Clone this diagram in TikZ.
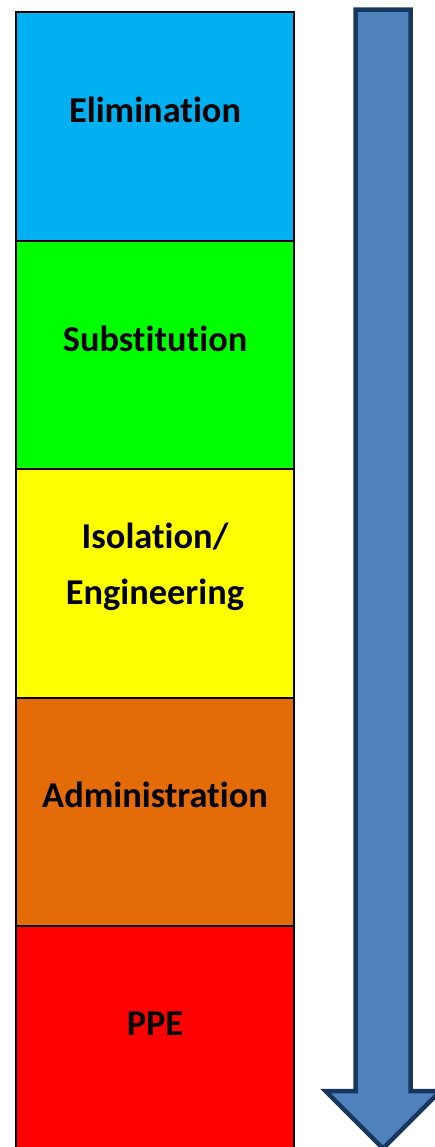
\documentclass[tikz,border=0pt]{standalone}
\usepackage{fontspec}
\setmainfont{Carlito}[Ligatures=NoCommon]
\definecolor{cElim}{HTML}{00B0F0}
\definecolor{cSubs}{HTML}{00FF00}
\definecolor{cIsol}{HTML}{FFFF00}
\definecolor{cAdmin}{HTML}{E36C09}
\definecolor{cPPE}{HTML}{FF0000}
\definecolor{arrowFill}{HTML}{4F81BD}
\definecolor{arrowLine}{HTML}{17375E}
\begin{document}
\begin{tikzpicture}[x=1bp,y=-1bp,
  levelbox/.style={draw=black,line width=2bp,rectangle,inner sep=0pt,
    minimum width=278bp,minimum height=228.5bp,anchor=north west},
  leveltext/.style={font=\fontsize{36.5}{56}\selectfont\bfseries,anchor=base,align=center,inner sep=0pt}]
\useasboundingbox (0,0) rectangle (435,1147);
\clip (0,0) rectangle (435,1147);
\node[levelbox,fill=cElim]  (b1) at (15,11) {};
\node[levelbox,fill=cSubs]  (b2) at (15,239.5) {};
\node[levelbox,fill=cIsol]  (b3) at (15,468) {};
\node[levelbox,fill=cAdmin] (b4) at (15,696.5) {};
\node[levelbox,fill=cPPE,minimum height=260bp] (b5) at (15,925) {};
\node[leveltext] (t1) at (155,122.5) {Elimination};
\node[leveltext] (t2) at (155,351) {Substitution};
\node[leveltext] (t3) at (155,548) {Isolation/};
\node[leveltext] (t3b) at (155,604) {Engineering};
\node[leveltext] (t4) at (155,807) {Administration};
\node[leveltext] (t5) at (155,1035.5) {PPE};
\draw[fill=arrowFill,draw=arrowLine,line width=4.5bp,line join=miter]
  (355.5,9.5) -- (410.5,9.5) -- (410.5,1091) -- (440.5,1091) -- (383,1148.5)
  -- (325.5,1091) -- (355.5,1091) -- cycle;
\end{tikzpicture}
\end{document}
